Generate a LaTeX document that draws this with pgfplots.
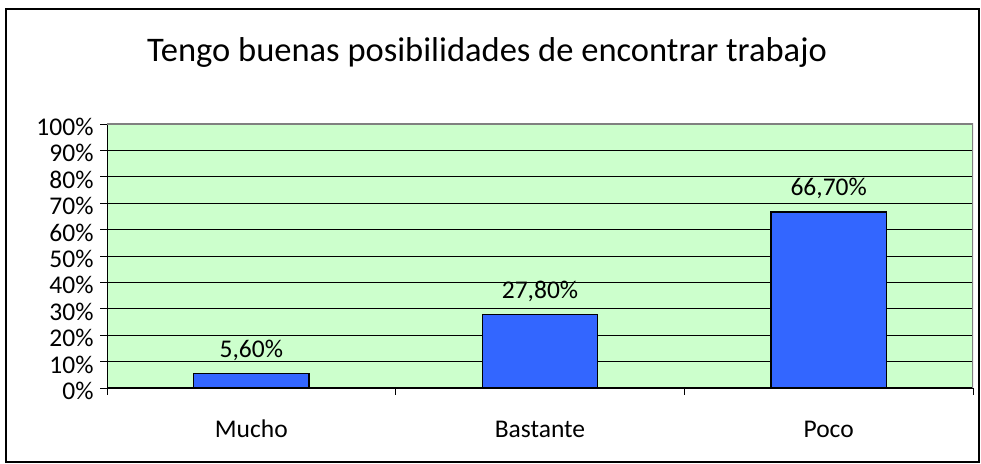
\documentclass[border=0pt]{standalone}
\usepackage{pgfplots}
\pgfplotsset{compat=1.18}
\usepackage{fontspec}
\setmainfont{Carlito}
\definecolor{plotgreen}{HTML}{CCFFCC}
\definecolor{barblue}{HTML}{3366FF}
\begin{document}
\begin{tikzpicture}[x=1bp,y=1bp]
\path[use as bounding box] (0,0) rectangle (981,464);
\draw[line width=2bp] (6,2) rectangle (979,455);
\node[anchor=base, font=\fontsize{34.5bp}{40bp}\selectfont] at (487,402) {Tengo buenas posibilidades de encontrar trabajo};
\begin{axis}[
  at={(107bp,76bp)}, anchor=south west,
  scale only axis, width=866bp, height=264bp,
  xmin=-0.5, xmax=2.5, ymin=0, ymax=100,
  enlargelimits=false,
  axis background/.style={fill=plotgreen},
  axis x line*=bottom, axis y line*=left,
  axis line style={black, line width=1bp},
  tick align=outside, major tick length=7bp,
  tick style={black, line width=0.8bp},
  ytick={0,10,...,100},
  yticklabel={\pgfmathprintnumber{\tick}\%},
  /pgf/number format/assume math mode=true,
  y tick label style={font=\fontsize{25.5bp}{30bp}\selectfont, xshift=-3bp, yshift=-3bp},
  ymajorgrids, grid style={black, line width=0.7bp},
  xtick={-0.5,0.5,1.5,2.5}, xticklabels={},
  extra x ticks={0,1,2},
  extra x tick labels={Mucho,Bastante,Poco},
  extra x tick style={major tick length=0pt, grid=none,
     tick label style={font=\fontsize{25.5bp}{30bp}\selectfont, text height=19bp, text depth=5bp, yshift=-27bp}},
  ybar, bar width=0.4,
  nodes near coords={\pgfmathprintnumber[fixed,fixed zerofill,precision=2,use comma]{\pgfplotspointmeta}\%},
  nodes near coords style={font=\fontsize{25.5bp}{30bp}\selectfont, anchor=base, yshift=16bp, black},
]
\addplot[fill=barblue, draw=black, line width=1.2bp] coordinates {(0,5.6) (1,27.8) (2,66.7)};
\draw[gray, line width=1.5bp] (rel axis cs:0,1) -- (rel axis cs:1,1) -- (rel axis cs:1,0);
\end{axis}
\end{tikzpicture}
\end{document}
